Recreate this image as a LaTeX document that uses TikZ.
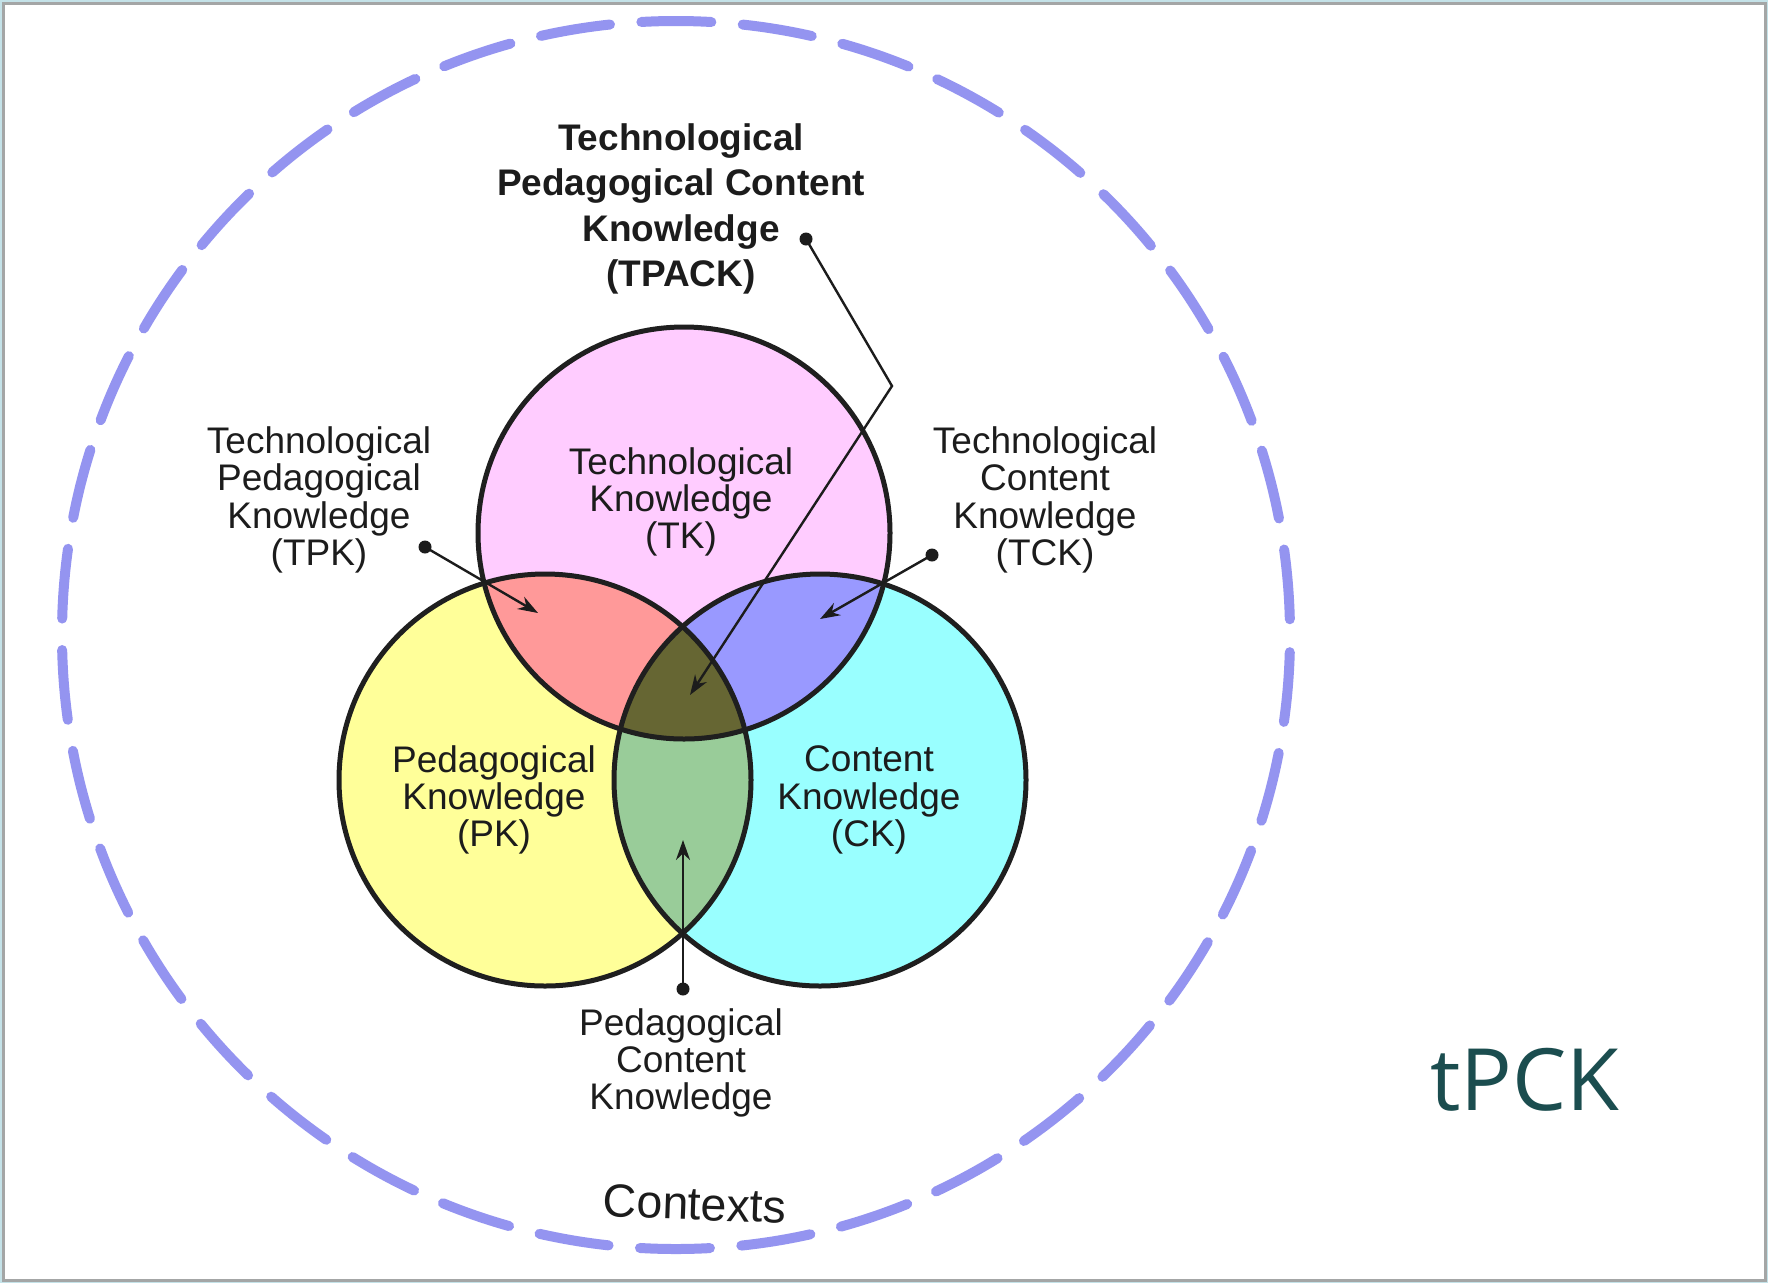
\documentclass[tikz,border=0pt]{standalone}
\usepackage{fontspec}
\setmainfont{Liberation Sans}
\newfontfamily\tpckfont{Open Sans}
\usetikzlibrary{arrows.meta}
\definecolor{tkc}{HTML}{FFCCFF}
\definecolor{pkc}{HTML}{FFFF99}
\definecolor{ckc}{HTML}{99FFFF}
\definecolor{tpkc}{HTML}{FF9999}
\definecolor{tckc}{HTML}{9999FF}
\definecolor{pckc}{HTML}{99CC99}
\definecolor{tpackc}{HTML}{666633}
\definecolor{ctxc}{RGB}{148,148,240}
\definecolor{tpcktextc}{HTML}{1B4D4F}
\definecolor{framegray}{HTML}{A4A6A6}
\definecolor{framebg}{HTML}{C4E2E8}
\definecolor{txtc}{HTML}{1C1C1C}
\begin{document}
\begin{tikzpicture}[x=1pt,y=-1pt,
  lbl/.style={align=center,inner sep=0pt,text=txtc,font=\fontsize{37}{37.3}\selectfont},
  titlelbl/.style={align=center,inner sep=0pt,text=txtc,font=\bfseries\fontsize{37}{45.5}\selectfont},
  venn/.style={draw=black!88,line width=5pt},
  leader/.style={draw=txtc,line width=2.4pt,-{Stealth[length=20pt,width=14pt]}},
  ctxdash/.style={draw=ctxc,line width=10pt,line cap=round,dash pattern=on 70pt off 31.5pt,dash phase=85.75pt}
]
\useasboundingbox (0,0) rectangle (1768,1283);
\fill[framebg] (0,0) rectangle (1768,1283);
\draw[framegray,line width=3pt,fill=white] (3,3) rectangle (1765,1280);

% contexts dashed circle
\coordinate (ctx) at (676,635);
\draw[ctxdash] (ctx) circle[radius=614pt];

% Venn circles
\coordinate (T) at (684,533);
\coordinate (P) at (545,780);
\coordinate (C) at (820,780);
\def\R{206pt}
\fill[tkc] (T) circle[radius=\R];
\fill[pkc] (P) circle[radius=\R];
\fill[ckc] (C) circle[radius=\R];
\begin{scope}
  \clip (T) circle[radius=\R];
  \fill[tpkc] (P) circle[radius=\R];
  \fill[tckc] (C) circle[radius=\R];
\end{scope}
\begin{scope}
  \clip (P) circle[radius=\R];
  \fill[pckc] (C) circle[radius=\R];
\end{scope}
\begin{scope}
  \clip (T) circle[radius=\R];
  \clip (P) circle[radius=\R];
  \fill[tpackc] (C) circle[radius=\R];
\end{scope}
\draw[venn] (T) circle[radius=\R];
\draw[venn] (P) circle[radius=\R];
\draw[venn] (C) circle[radius=\R];

% labels
\node[titlelbl] (tpack) at (681,209) {Technological\\Pedagogical Content\\Knowledge\\(TPACK)};
\node[lbl] (tpk) at (319,500) {Technological\\Pedagogical\\Knowledge\\(TPK)};
\node[lbl] (tck) at (1045,500) {Technological\\Content\\Knowledge\\(TCK)};
\node[lbl] (tk) at (681,502) {Technological\\Knowledge\\(TK)};
\node[lbl] (pk) at (494,800) {Pedagogical\\Knowledge\\(PK)};
\node[lbl] (ck) at (869,800) {Content\\Knowledge\\(CK)};
\node[lbl] (pck) at (681,1063) {Pedagogical\\Content\\Knowledge};
\node[inner sep=0pt,text=txtc,font=\fontsize{46.5}{46.5}\selectfont,rotate=-2] (contexts) at (695,1204) {Contexts};
\node[inner sep=0pt,anchor=base,text=tpcktextc,font=\tpckfont\fontsize{86}{86}\selectfont] (tpcktxt) at (1525,1110) {tPCK};

% leaders
\coordinate (tpackdot) at (806,239);
\coordinate (tpackbend) at (892,386);
\coordinate (tpacktip) at (690,695);
\coordinate (tpkdot) at (425,547);
\coordinate (tpktip) at (538,613);
\coordinate (tckdot) at (932,555);
\coordinate (tcktip) at (820,619);
\coordinate (pckdot) at (683,989);
\coordinate (pcktip) at (683,840);
\draw[leader] (tpackdot) -- (tpackbend) -- (tpacktip);
\draw[leader] (tpkdot) -- (tpktip);
\draw[leader] (tckdot) -- (tcktip);
\draw[leader] (pckdot) -- (pcktip);
\foreach \d in {tpackdot,tpkdot,tckdot,pckdot}
  \fill[txtc] (\d) circle[radius=6.5pt];
\end{tikzpicture}
\end{document}
